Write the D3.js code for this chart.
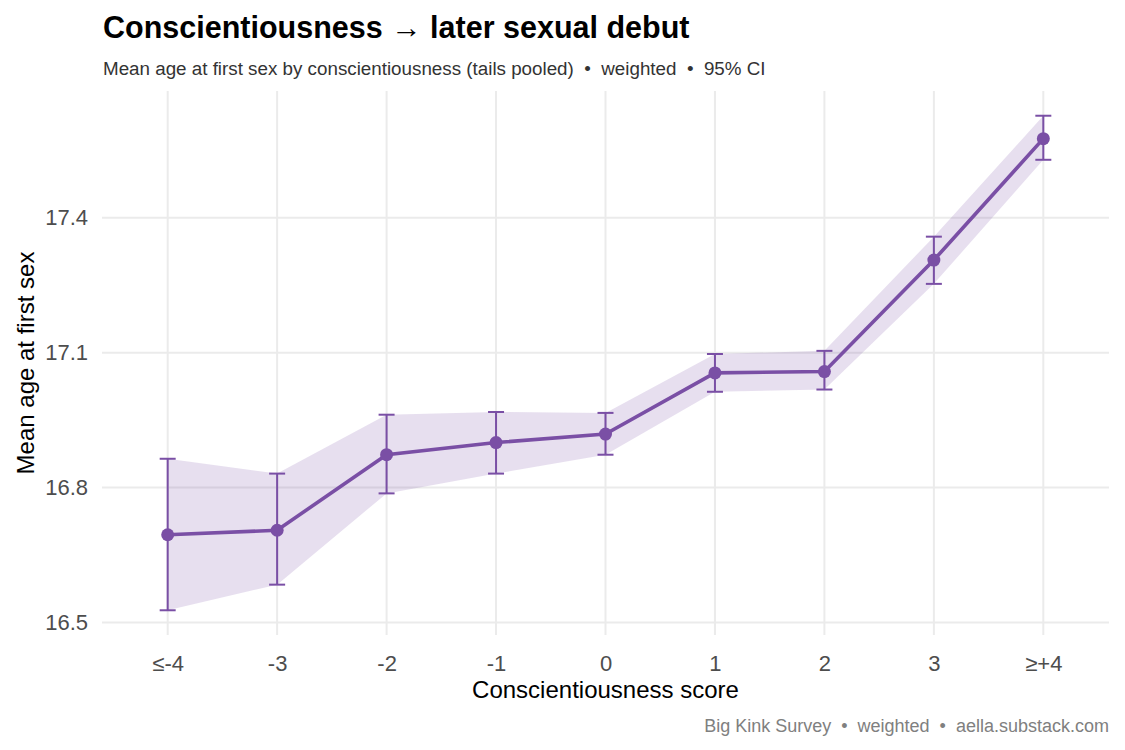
<!DOCTYPE html>
<html>
<head>
<meta charset="utf-8">
<script src="https://cdn.jsdelivr.net/npm/d3@7"></script>
<style>
  body { margin: 0; background: #fff; }
  svg { font-family: 'Liberation Sans', Arial, sans-serif; }
  text { white-space: pre; }
</style>
</head>
<body>
<svg id="chart" width="1125" height="750"></svg>
<script>
// data
const categories = ['≤-4', '-3', '-2', '-1', '0', '1', '2', '3', '≥+4']
const meanAge = [16.695, 16.705, 16.873, 16.900, 16.919, 17.055, 17.058, 17.306, 17.576]
const ciLow = [16.527, 16.584, 16.787, 16.831, 16.873, 17.013, 17.018, 17.253, 17.529]
const ciHigh = [16.864, 16.831, 16.962, 16.968, 16.966, 17.097, 17.104, 17.358, 17.627]
const yTicks = [16.5, 16.8, 17.1, 17.4]

const rows = categories.map((c, i) => ({ cat: c, mean: meanAge[i], lo: ciLow[i], hi: ciHigh[i] }))

const width = 1125
const height = 750
const margin = { top: 91, right: 16, bottom: 115, left: 102 }
const purple = '#7a4fa5'

const svg = d3.select('#chart')

// discrete x axis with ggplot-like 0.6 expansion either side
const x = d3.scalePoint()
  .domain(categories)
  .range([margin.left, width - margin.right])
  .padding(0.6)

const yMin = d3.min(ciLow)
const yMax = d3.max(ciHigh)
const pad = (yMax - yMin) * 0.05
const y = d3.scaleLinear()
  .domain([yMin - pad, yMax + pad])
  .range([height - margin.bottom, margin.top])

// grid
const grid = svg.append('g').attr('stroke', '#ebebeb').attr('stroke-width', 2)
grid.selectAll('line.h')
  .data(yTicks)
  .join('line')
  .attr('x1', margin.left)
  .attr('x2', width - margin.right)
  .attr('y1', d => y(d))
  .attr('y2', d => y(d))
grid.selectAll('line.v')
  .data(categories)
  .join('line')
  .attr('x1', d => x(d))
  .attr('x2', d => x(d))
  .attr('y1', margin.top)
  .attr('y2', height - margin.bottom)

// ribbon
const area = d3.area()
  .x(d => x(d.cat))
  .y0(d => y(d.lo))
  .y1(d => y(d.hi))
svg.append('path')
  .datum(rows)
  .attr('d', area)
  .attr('fill', purple)
  .attr('fill-opacity', 0.18)

// error bars
const capHalf = 8
const bars = svg.append('g').attr('stroke', purple).attr('stroke-width', 2)
bars.selectAll('line.stem')
  .data(rows)
  .join('line')
  .attr('x1', d => x(d.cat))
  .attr('x2', d => x(d.cat))
  .attr('y1', d => y(d.lo))
  .attr('y2', d => y(d.hi))
bars.selectAll('line.top')
  .data(rows)
  .join('line')
  .attr('x1', d => x(d.cat) - capHalf)
  .attr('x2', d => x(d.cat) + capHalf)
  .attr('y1', d => y(d.hi))
  .attr('y2', d => y(d.hi))
bars.selectAll('line.bottom')
  .data(rows)
  .join('line')
  .attr('x1', d => x(d.cat) - capHalf)
  .attr('x2', d => x(d.cat) + capHalf)
  .attr('y1', d => y(d.lo))
  .attr('y2', d => y(d.lo))

// mean line and points
const line = d3.line().x(d => x(d.cat)).y(d => y(d.mean))
svg.append('path')
  .datum(rows)
  .attr('d', line)
  .attr('fill', 'none')
  .attr('stroke', purple)
  .attr('stroke-width', 3.6)

svg.append('g')
  .selectAll('circle')
  .data(rows)
  .join('circle')
  .attr('cx', d => x(d.cat))
  .attr('cy', d => y(d.mean))
  .attr('r', 6.5)
  .attr('fill', purple)

// axes (no domain line / ticks, ggplot minimal)
const yAxis = svg.append('g')
  .attr('transform', `translate(${margin.left}, 0)`)
  .call(d3.axisLeft(y).tickValues(yTicks).tickFormat(d3.format('.1f')).tickSize(0).tickPadding(14))
yAxis.select('.domain').remove()
yAxis.selectAll('text').attr('font-size', 22).attr('fill', '#4d4d4d').attr('font-family', null)

const xAxis = svg.append('g')
  .attr('transform', `translate(0, ${height - margin.bottom})`)
  .call(d3.axisBottom(x).tickSize(0).tickPadding(20))
xAxis.select('.domain').remove()
xAxis.selectAll('text').attr('font-size', 22).attr('fill', '#4d4d4d').attr('font-family', null)

// titles
svg.append('text')
  .attr('x', 103)
  .attr('y', 38)
  .attr('font-size', 30.5)
  .attr('font-weight', 'bold')
  .attr('fill', '#000')
  .text('Conscientiousness → later sexual debut')

svg.append('text')
  .attr('x', 103)
  .attr('y', 75)
  .attr('font-size', 18.8)
  .attr('fill', '#333')
  .text('Mean age at first sex by conscientiousness (tails pooled)  •  weighted  •  95% CI')

svg.append('text')
  .attr('x', (margin.left + width - margin.right) / 2)
  .attr('y', 698)
  .attr('text-anchor', 'middle')
  .attr('font-size', 24)
  .attr('fill', '#000')
  .text('Conscientiousness score')

svg.append('text')
  .attr('transform', `translate(34, ${(margin.top + height - margin.bottom) / 2}) rotate(-90)`)
  .attr('text-anchor', 'middle')
  .attr('font-size', 24)
  .attr('fill', '#000')
  .text('Mean age at first sex')

svg.append('text')
  .attr('x', width - margin.right)
  .attr('y', 732)
  .attr('text-anchor', 'end')
  .attr('font-size', 18)
  .attr('fill', '#808080')
  .text('Big Kink Survey  •  weighted  •  aella.substack.com')
</script>
</body>
</html>
